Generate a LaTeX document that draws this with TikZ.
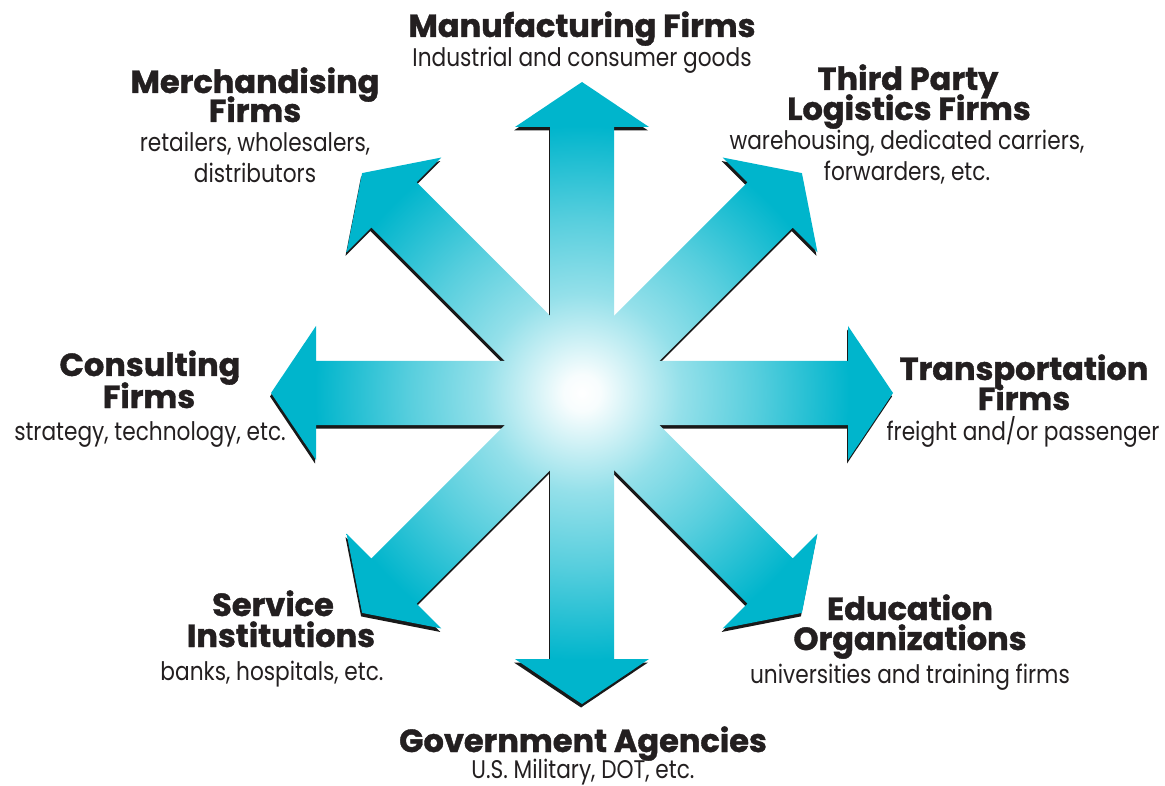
\documentclass[tikz,border=0pt]{standalone}
\usepackage{fontspec}
\setmainfont{Poppins}
\newfontfamily\headfont[BoldFeatures={FakeBold=1.2}]{Poppins}
\newfontfamily\bodyfont[FakeStretch=0.85]{Poppins}
\definecolor{cyanc}{RGB}{0,181,204}
\definecolor{shadowc}{RGB}{25,25,25}
\definecolor{textc}{RGB}{35,31,32}
% 25bp of the shading corresponds to the circle radius (311 px)
\pgfdeclareradialshading{starshade}{\pgfpointorigin}{color(0bp)=(white); color(1.5bp)=(white!97!cyanc); color(8bp)=(cyanc!42!white); color(14bp)=(cyanc!66!white); color(21.5bp)=(cyanc); color(50bp)=(cyanc)}
\tikzset{
  hd/.style={anchor=base, inner sep=0pt, text=textc, font=\headfont\bfseries\fontsize{32}{36}\selectfont},
  bd/.style={anchor=base, inner sep=0pt, text=textc, font=\bodyfont\fontsize{25.5}{30}\selectfont},
}
\begin{document}
\begin{tikzpicture}[x=1pt,y=-1pt]
\fill[white] (0,0) rectangle (1165,786);
\useasboundingbox (0,0) rectangle (1165,786);
\begin{scope}[shift={(582,393)}]
  \foreach \a in {0,45,...,315}
    \fill[shadowc, shift={(-1,3.5)}, rotate=\a] (0,-32) -- (266,-32) -- (266,-67) -- (311,0) -- (266,67) -- (266,32) -- (0,32) -- cycle;
  \foreach \a in {0,45,...,315}{
    \begin{scope}
      \clip[rotate=\a] (0,-32) -- (266,-32) -- (266,-67) -- (311,0) -- (266,67) -- (266,32) -- (0,32) -- cycle;
      \shade[shading=starshade] (0,0) circle (311);
    \end{scope}
  }
\end{scope}
% labels
\node[hd] (manuH) at (582,37) {Manufacturing Firms};
\node[bd] (manuB) at (582,67) {Industrial and consumer goods};
\node[hd] (merH1) at (255,93) {Merchandising};
\node[hd] (merH2) at (255,122) {Firms};
\node[bd] (merB1) at (255,152) {retailers, wholesalers,};
\node[bd] (merB2) at (255,183) {distributors};
\node[hd] (tplH1) at (908,90) {Third Party};
\node[hd] (tplH2) at (909,120) {Logistics Firms};
\node[bd] (tplB1) at (907,150) {warehousing, dedicated carriers,};
\node[bd] (tplB2) at (907,181) {forwarders, etc.};
\node[hd] (conH1) at (150,376) {Consulting};
\node[hd] (conH2) at (149,408) {Firms};
\node[bd] (conB) at (150,440) {strategy, technology, etc.};
\node[hd] (traH1) at (1024,380) {Transportation};
\node[hd] (traH2) at (1024,410) {Firms};
\node[bd] (traB) at (1023,440) {freight and/or passenger};
\node[hd] (serH1) at (273,616) {Service};
\node[hd] (serH2) at (281,647) {Institutions};
\node[bd] (serB) at (272,680) {banks, hospitals, etc.};
\node[hd] (eduH1) at (910,620) {Education};
\node[hd] (eduH2) at (910,650) {Organizations};
\node[bd] (eduB) at (910,683) {universities and training firms};
\node[hd] (govH) at (583,752) {Government Agencies};
\node[bd] (govB) at (583,778) {U.S. Military, DOT, etc.};
\end{tikzpicture}
\end{document}
